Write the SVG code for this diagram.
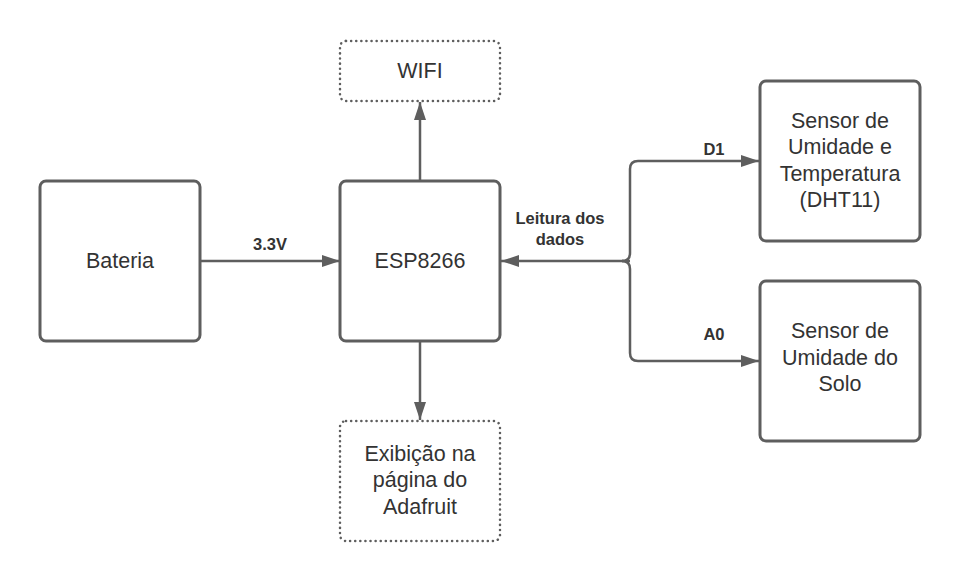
<svg xmlns="http://www.w3.org/2000/svg" width="960" height="583" viewBox="0 0 960 583">
<style>
.box{fill:#fff;stroke:#5e5e5e;stroke-width:3}
.dot{fill:#fff;stroke:#5e5e5e;stroke-width:2.5;stroke-dasharray:0.1 5;stroke-linecap:round}
.t{font-family:"Liberation Sans",Arial,sans-serif;font-size:21.5px;fill:#333;text-anchor:middle}
.e{font-family:"Liberation Sans",Arial,sans-serif;font-size:16.5px;font-weight:bold;fill:#333;text-anchor:middle}
.c{fill:none;stroke:#5e5e5e;stroke-width:2.5}
</style>
<defs>
<marker id="ah" viewBox="0 0 18 12" refX="18" refY="6" markerWidth="18" markerHeight="12" markerUnits="userSpaceOnUse" orient="auto">
<path d="M0,0 L18,6 L0,12 Z" fill="#5e5e5e"/>
</marker>
</defs>
<rect width="960" height="583" fill="#fff"/>
<g id="connectors">
<path class="c" d="M200,261 H340" marker-end="url(#ah)"/>
<path class="c" d="M420,181 V102" marker-end="url(#ah)"/>
<path class="c" d="M420,341 V420" marker-end="url(#ah)"/>
<path class="c" d="M630,261 H501" marker-end="url(#ah)"/>
<path class="c" d="M622,261 Q630,261 630,253 V169 Q630,161 638,161 H759" marker-end="url(#ah)"/>
<path class="c" d="M622,261 Q630,261 630,269 V353 Q630,361 638,361 H759" marker-end="url(#ah)"/>
<text class="e" x="270" y="250">3.3V</text>
<text class="e" x="560" y="224">Leitura dos</text>
<text class="e" x="560" y="245">dados</text>
<text class="e" x="714" y="155">D1</text>
<text class="e" x="714" y="340">A0</text>
</g>
<g id="bateria">
<rect class="box" x="40" y="181" width="160" height="160" rx="6"/>
<text class="t" x="120" y="268">Bateria</text>
</g>
<g id="esp8266">
<rect class="box" x="340" y="181" width="160" height="160" rx="6"/>
<text class="t" x="420" y="268">ESP8266</text>
</g>
<g id="wifi">
<rect class="dot" x="340" y="41" width="160" height="60" rx="6"/>
<text class="t" x="420" y="78">WIFI</text>
</g>
<g id="adafruit">
<rect class="dot" x="340" y="421" width="160" height="120" rx="6"/>
<text class="t" x="420" y="460.5">Exibição na</text>
<text class="t" x="420" y="487">página do</text>
<text class="t" x="420" y="513.5">Adafruit</text>
</g>
<g id="dht11">
<rect class="box" x="760" y="81" width="160" height="160" rx="6"/>
<text class="t" x="840" y="127.5">Sensor de</text>
<text class="t" x="840" y="154">Umidade e</text>
<text class="t" x="840" y="180.5">Temperatura</text>
<text class="t" x="840" y="207">(DHT11)</text>
</g>
<g id="solo">
<rect class="box" x="760" y="281" width="160" height="160" rx="6"/>
<text class="t" x="840" y="338">Sensor de</text>
<text class="t" x="840" y="364.5">Umidade do</text>
<text class="t" x="840" y="391">Solo</text>
</g>
</svg>
